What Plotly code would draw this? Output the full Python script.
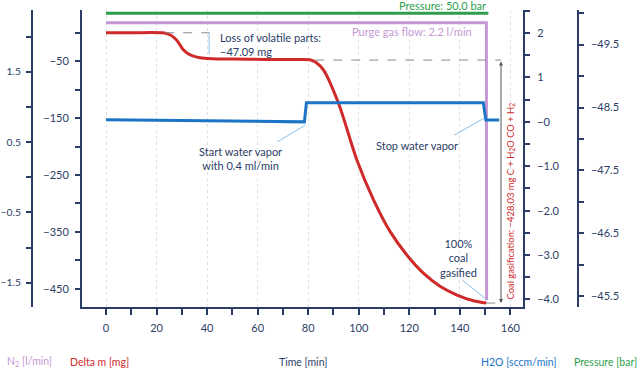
import plotly.graph_objects as go

# ---------------- data ----------------
# Delta m [mg] vs time [min]
dm_time = [0, 10, 23, 25.5, 28, 30.6, 32.5, 34.6, 37.2, 42, 50, 63.5, 76, 81, 83, 86.1, 92, 99.3, 105.9,
           112.5, 119.1, 125.7, 132.3, 138.9, 145.4, 150.5]
dm_mass = [0, 0, -0.5, -4, -13, -30, -37, -41, -44, -45.5, -46.2, -46.8, -47.1, -47.8, -52, -65.6, -124, -224, -294,
           -350, -391, -423, -446, -461, -471, -475.1]

# N2 purge gas flow [l/min]
n2_time = [0, 150.5, 150.6]
n2_flow = [2.2, 2.2, -1.75]

# H2O [sccm/min]
h2o_time = [0, 78.5, 79.3, 149.3, 150.3, 155.6]
h2o_flow = [0.05, 0.0, 0.43, 0.43, 0.04, 0.04]

# Pressure [bar] (plotted on the reversed pressure axis)
p_time = [0, 151.3]
p_bar = [-50.0, -50.0]

# tick labels
x_ticks = [0, 20, 40, 60, 80, 100, 120, 140, 160]
h2o_tickvals = [2, 1, 0, -1, -2, -3, -4]
h2o_ticktext = ['2', '1', '\u22120', '\u22121.0', '\u22122.0', '\u22123.0', '\u22124.0']

# ---------------- style ----------------
NAVY = '#2b3d66'
RED = '#cf2a2a'
GREEN = '#2e9e4c'
PURPLE = '#c598d5'
BLUE = '#1b74c5'
CALLOUT = '#8cc0ea'
GRAYD = '#8a8a8a'
FONT = 'Lato'
FS = 11

W, H = 640, 373
x0px, x1px = 82, 523
y0px, y1px = 10, 307

fig = go.Figure()
fig.add_trace(go.Scatter(x=dm_time, y=dm_mass, mode='lines', yaxis='y',
                         line=dict(color=RED, width=3, shape='spline', smoothing=0.8)))
fig.add_trace(go.Scatter(x=n2_time, y=n2_flow, mode='lines', yaxis='y2',
                         line=dict(color=PURPLE, width=3)))
fig.add_trace(go.Scatter(x=h2o_time, y=h2o_flow, mode='lines', yaxis='y3',
                         line=dict(color=BLUE, width=3)))
fig.add_trace(go.Scatter(x=p_time, y=p_bar, mode='lines', yaxis='y4',
                         line=dict(color=GREEN, width=3)))

tickfont = dict(family=FONT, size=FS, color=NAVY)
common = dict(showline=True, linecolor=NAVY, linewidth=2, ticks='outside', tickcolor=NAVY,
              tickwidth=1.5, ticklen=5, zeroline=False, showgrid=False,
              automargin=False)

ydom = [1 - y1px / H, 1 - y0px / H]

fig.update_layout(
    width=W, height=H, autosize=False,
    margin=dict(l=0, r=0, t=0, b=0, pad=0),
    paper_bgcolor='white', plot_bgcolor='white',
    showlegend=False,
    font=dict(family=FONT, size=FS, color=NAVY),
    xaxis=dict(domain=[x0px / W, x1px / W], range=[-9.5, 165], anchor='y',
               tickmode='array', tickvals=x_ticks, automargin=False,
               showline=True, linecolor=NAVY, linewidth=2, ticks='outside', tickcolor=NAVY,
               tickwidth=1.5, ticklen=6, tickfont=tickfont, zeroline=False,
               showgrid=True, gridcolor='#e0e0e0', griddash='3px,3px', gridwidth=1,
               ticklabelstandoff=4,
               minor=dict(dtick=10, tick0=0, ticks='outside', ticklen=6, tickcolor=NAVY,
                          tickwidth=1.5, showgrid=False)),
    yaxis=dict(domain=ydom, range=[-482, 40], side='left', anchor='x',
               tick0=-50, dtick=100, ticklabelstandoff=4, tickfont=tickfont,
               minor=dict(dtick=50, tick0=0, ticks='outside', ticklen=5, tickcolor=NAVY, tickwidth=1.5),
               **common),
    yaxis2=dict(range=[-1.846, 2.38], overlaying='y', side='left', anchor='free',
                position=32 / W, tick0=1.5, dtick=1, ticklabelstandoff=3,
                tickfont=dict(family=FONT, size=10.3, color=NAVY),
                minor=dict(dtick=0.5, tick0=0, ticks='outside', ticklen=5, tickcolor=NAVY, tickwidth=1.5),
                **common),
    yaxis3=dict(range=[-4.17, 2.52], overlaying='y', side='right', anchor='x',
                tickmode='array', tickvals=h2o_tickvals, ticktext=h2o_ticktext,
                ticklabelstandoff=5, tickfont=tickfont,
                minor=dict(dtick=0.5, tick0=0, ticks='outside', ticklen=5, tickcolor=NAVY, tickwidth=1.5),
                **common),
    yaxis4=dict(range=[-45.33, -50.05], overlaying='y', side='right', anchor='free',
                position=577.7 / W, tick0=-49.5, dtick=1, ticklabelstandoff=5, tickfont=tickfont,
                minor=dict(dtick=0.5, tick0=-50, ticks='outside', ticklen=5, tickcolor=NAVY, tickwidth=1.5),
                **common),
)

# ---------- guide lines (data coordinates on Delta m axis) ----------
shapes = [
    dict(type='line', xref='x', yref='y', x0=23.4, x1=41, y0=0, y1=0,
         line=dict(color=GRAYD, width=1, dash='dash')),
    dict(type='line', xref='x', yref='y', x0=82.8, x1=156.3, y0=-48, y1=-48,
         line=dict(color=GRAYD, width=1, dash='dash')),
    dict(type='line', xref='x', yref='y', x0=150.5, x1=156.3, y0=-475.1, y1=-475.1,
         line=dict(color=GRAYD, width=1, dash='dash')),
    dict(type='line', xref='x', yref='y', x0=40.8, x1=40.8, y0=-1, y1=-37.4,
         line=dict(color=CALLOUT, width=1)),
    dict(type='line', xref='x', yref='y', x0=67.7, x1=78.8, y0=-192, y1=-162.6,
         line=dict(color=CALLOUT, width=1)),
    dict(type='line', xref='x', yref='y', x0=137.8, x1=149.7, y0=-179.8, y1=-149.9,
         line=dict(color=CALLOUT, width=1)),
    dict(type='line', xref='x', yref='y', x0=141, x1=150.3, y0=-434.6, y1=-468,
         line=dict(color=CALLOUT, width=1)),
]
fig.update_layout(shapes=shapes)

ann = []
# double arrow for coal gasification
ann.append(dict(x=156.3, y=-475.1, ax=156.3, ay=-48, xref='x', yref='y', axref='x', ayref='y',
                showarrow=True, arrowhead=2, arrowside='end+start', arrowsize=0.8, arrowwidth=1,
                arrowcolor='#555555', text=''))


def txt(text, xp, yp, color=NAVY, xanchor='center', yanchor='middle', angle=0, align='center', size=FS):
    ann.append(dict(text=text, x=xp / W, y=1 - yp / H, xref='paper', yref='paper', showarrow=False,
                    xanchor=xanchor, yanchor=yanchor, textangle=angle, align=align,
                    font=dict(family=FONT, size=size, color=color)))


txt('Loss of volatile parts:<br>\u221247.09 mg', 218, 45, xanchor='left', align='left')
txt('Purge gas flow: 2.2 l/min', 474, 31.7, color=PURPLE, xanchor='right')
txt('Pressure: 50.0 bar', 488, 5.5, color=GREEN, xanchor='right')
txt('Start water vapor<br>with 0.4 ml/min', 240, 158.5)
txt('Stop water vapor', 417, 145)
txt('100%<br>coal<br>gasified', 458, 258)
txt('Coal gasification: \u2212428.03 mg C + H<sub>2</sub>O CO + H<sub>2</sub>', 510.5, 201,
    color=RED, angle=-90, size=9.4)

# bottom axis titles
FT = 10.5
txt('N<sub>2</sub> [l/min]', 5, 362, color=PURPLE, xanchor='left', size=FT)
txt('Delta m [mg]', 68, 362, color=RED, xanchor='left', size=FT)
txt('Time [min]', 303, 362, size=FT)
txt('H2O [sccm/min]', 478.6, 362, color=BLUE, xanchor='left', size=FT)
txt('Pressure [bar]', 639, 362, color=GREEN, xanchor='right', size=FT)

fig.update_layout(annotations=ann)

fig.write_html('out.html', config={'displayModeBar': False},
               post_script="document.body.style.margin='0';document.body.style.padding='0';")
